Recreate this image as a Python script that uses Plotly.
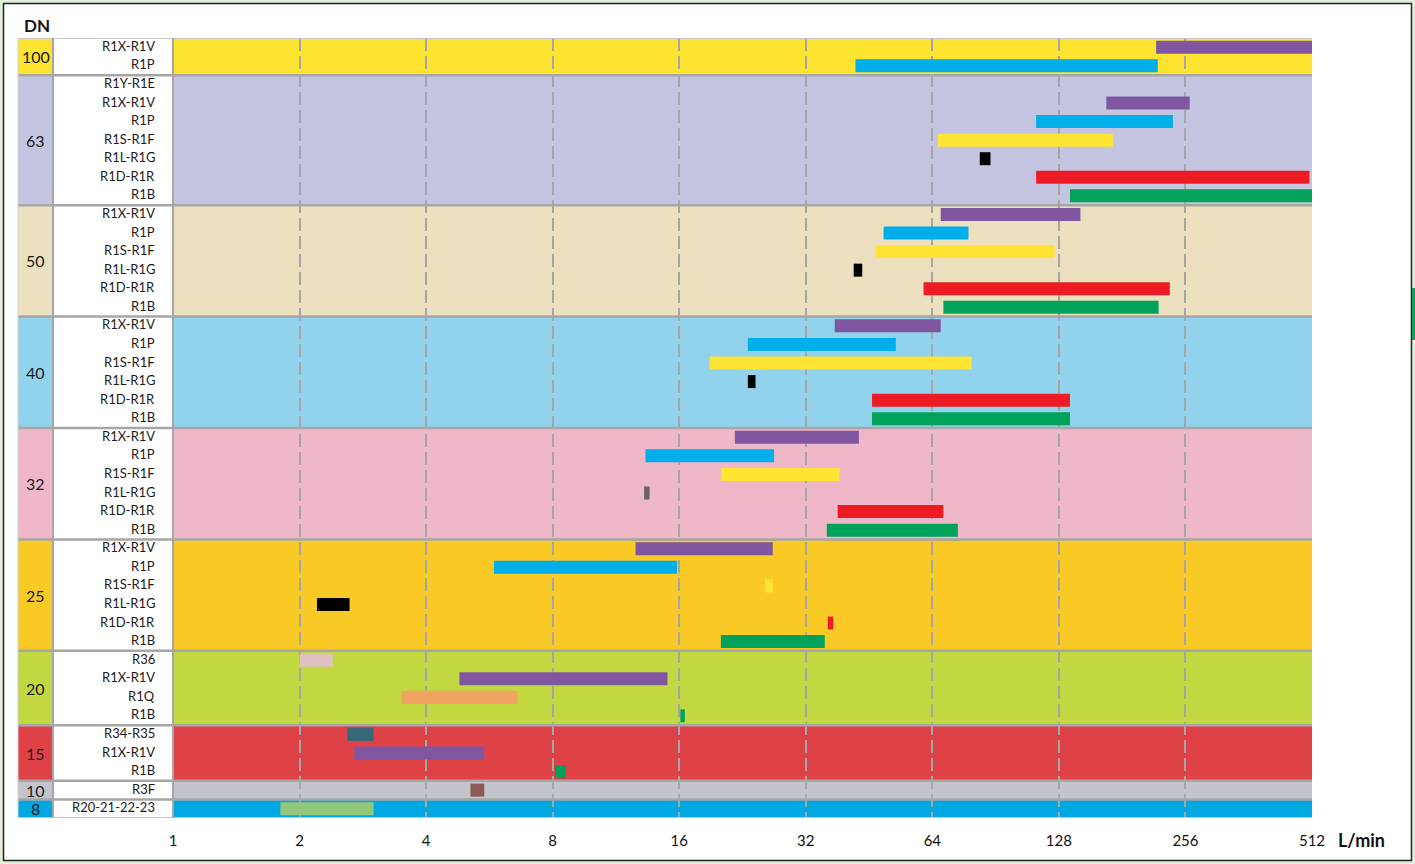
import plotly.graph_objects as go

# ---------------------------------------------------------------- data
dn_labels = ["100", "63", "50", "40", "32", "25", "20", "15", "10", "8"]

std_models = ["R1X-R1V", "R1P", "R1S-R1F", "R1L-R1G", "R1D-R1R", "R1B"]
models_per_dn = [
    ["R1X-R1V", "R1P"],
    ["R1Y-R1E", "R1X-R1V", "R1P", "R1S-R1F", "R1L-R1G", "R1D-R1R", "R1B"],
    std_models,
    std_models,
    std_models,
    std_models,
    ["R36", "R1X-R1V", "R1Q", "R1B"],
    ["R34-R35", "R1X-R1V", "R1B"],
    ["R3F"],
    ["R20-21-22-23"],
]

band_colors = ["#FEE330", "#C4C5E1", "#ECE0BF", "#91D2EC", "#EFB8C8",
               "#F9C926", "#C1D840", "#DE4247", "#C4C5CC", "#00A8E3"]

# flow ranges (L/min) per model and nominal diameter
bar_dn = ["100", "100",
          "63", "63", "63", "63", "63", "63",
          "50", "50", "50", "50", "50", "50",
          "40", "40", "40", "40", "40", "40",
          "32", "32", "32", "32", "32", "32",
          "25", "25", "25", "25", "25", "25",
          "20", "20", "20", "20",
          "15", "15", "15",
          "10",
          "8"]
bar_model = ["R1X-R1V", "R1P",
             "R1X-R1V", "R1P", "R1S-R1F", "R1L-R1G", "R1D-R1R", "R1B",
             "R1X-R1V", "R1P", "R1S-R1F", "R1L-R1G", "R1D-R1R", "R1B",
             "R1X-R1V", "R1P", "R1S-R1F", "R1L-R1G", "R1D-R1R", "R1B",
             "R1X-R1V", "R1P", "R1S-R1F", "R1L-R1G", "R1D-R1R", "R1B",
             "R1X-R1V", "R1P", "R1S-R1F", "R1L-R1G", "R1D-R1R", "R1B",
             "R36", "R1X-R1V", "R1Q", "R1B",
             "R34-R35", "R1X-R1V", "R1B",
             "R3F",
             "R20-21-22-23"]
bar_min = [218, 42,
           166, 113, 66, 83, 113, 136,
           67, 49, 47, 41.6, 61, 68,
           37.5, 23.3, 18.9, 23.3, 46, 46,
           21.7, 13.3, 20.1, 13.2, 38.1, 35.9,
           12.6, 5.8, 25.6, 2.2, 36.1, 20.1,
           2.0, 4.8, 3.5, 16.1,
           2.6, 2.7, 8.1,
           5.1,
           1.8]
bar_max = [512, 220,
           262, 239, 172, 88, 505, 512,
           144, 78, 125, 43.6, 235, 221,
           67, 52.4, 79.4, 24.3, 136, 136,
           42.8, 26.9, 38.5, 13.6, 68, 73.6,
           26.7, 15.8, 26.7, 2.63, 37.2, 35.5,
           2.4, 15.0, 6.6, 16.5,
           3.0, 5.5, 8.6,
           5.5,
           3.0]
bar_colors = ["#7F569F", "#00AEEA",
              "#7F569F", "#00AEEA", "#FFE433", "#000000", "#ED1C24", "#00A25A",
              "#7F569F", "#00AEEA", "#FFE433", "#000000", "#ED1C24", "#00A25A",
              "#7F569F", "#00AEEA", "#FFE433", "#000000", "#ED1C24", "#00A25A",
              "#7F569F", "#00AEEA", "#FFE433", "#636466", "#ED1C24", "#00A25A",
              "#7F569F", "#00AEEA", "#FFE433", "#000000", "#ED1C24", "#00A25A",
              "#DFC1C1", "#7F569F", "#EFA462", "#00A25A",
              "#376877", "#7F569F", "#00A25A",
              "#8A5A55",
              "#93C77C"]

flow_ticks = [1, 2, 4, 8, 16, 32, 64, 128, 256, 512]

# ---------------------------------------------------------------- layout geometry
W, H = 1415, 864
L, R, T, B = 173, 1312, 38, 818
PW, PH = R - L, B - T


def px(xp):
    return (xp - L) / PW


def py(yp):
    return (B - yp) / PH


FONT = "Lato, 'Open Sans', sans-serif"
GRID = "#A6A6A6"

# row index of each (dn, model)
row_of = {}
group_spans = []
r = 0
for dn, models in zip(dn_labels, models_per_dn):
    start = r
    for m in models:
        row_of[(dn, m)] = r
        r += 1
    group_spans.append((start - 0.5, r - 0.5))
n_rows = r

fig = go.Figure()

bar_y = [row_of[(d, m)] for d, m in zip(bar_dn, bar_model)]
fig.add_trace(go.Bar(
    orientation="h",
    y=bar_y,
    base=bar_min,
    x=[hi - lo for lo, hi in zip(bar_min, bar_max)],
    marker=dict(color=bar_colors, line=dict(width=0)),
    width=0.7,
    hoverinfo="skip",
    showlegend=False,
))

shapes = []
annotations = []

# outer frame
shapes.append(dict(type="rect", xref="paper", yref="paper",
                   x0=px(3.5), x1=px(1411.5), y0=py(3.5), y1=py(860.5),
                   fillcolor="white", line=dict(color="#222222", width=1.5),
                   layer="below"))
shapes.append(dict(type="line", xref="paper", yref="paper",
                   x0=px(1413.5), x1=px(1413.5), y0=py(288), y1=py(340),
                   line=dict(color="#12A05A", width=3), layer="below"))

for (y0, y1), dn, col in zip(group_spans, dn_labels, band_colors):
    # band in the chart area
    shapes.append(dict(type="rect", xref="paper", yref="y",
                       x0=0, x1=1, y0=y0, y1=y1,
                       fillcolor=col, line=dict(width=0), layer="below"))
    # DN column
    shapes.append(dict(type="rect", xref="paper", yref="y",
                       x0=px(18), x1=px(53), y0=y0, y1=y1,
                       fillcolor=col, line=dict(width=0), layer="below"))
    # model label column
    shapes.append(dict(type="rect", xref="paper", yref="y",
                       x0=px(53), x1=0, y0=y0, y1=y1,
                       fillcolor="white", line=dict(width=0), layer="below"))
    annotations.append(dict(xref="paper", yref="y", x=px(35.5), y=(y0 + y1) / 2,
                            text=dn, showarrow=False, xanchor="center",
                            yanchor="middle",
                            font=dict(family=FONT, size=16, color="#1A1A1A")))

# group separators
for y0, y1 in group_spans[1:]:
    shapes.append(dict(type="line", xref="paper", yref="y",
                       x0=px(18), x1=1, y0=y0, y1=y0,
                       line=dict(color=GRID, width=2.5), layer="above"))
for yv in (-0.5, n_rows - 0.5):
    shapes.append(dict(type="line", xref="paper", yref="y",
                       x0=px(18), x1=1, y0=yv, y1=yv,
                       line=dict(color="#C8C8C8", width=2), layer="above"))
for xv in (53, 173):
    shapes.append(dict(type="line", xref="paper", yref="y",
                       x0=px(xv), x1=px(xv), y0=-0.5, y1=n_rows - 0.5,
                       line=dict(color=GRID, width=2), layer="above"))
shapes.append(dict(type="line", xref="paper", yref="y",
                   x0=px(18), x1=px(18), y0=-0.5, y1=n_rows - 0.5,
                   line=dict(color="#D0D0D0", width=1), layer="above"))

# model labels
for (dn, m), ri in row_of.items():
    annotations.append(dict(xref="paper", yref="y", x=px(157), y=ri - 0.08,
                            text=m, showarrow=False, xanchor="right",
                            yanchor="middle",
                            font=dict(family=FONT, size=13, color="#1A1A1A")))

annotations.append(dict(xref="paper", yref="paper", x=px(22), y=py(25),
                        text="<b>DN</b>", showarrow=False, xanchor="left",
                        yanchor="middle",
                        font=dict(family=FONT, size=17, color="#111111")))
annotations.append(dict(xref="paper", yref="paper", x=px(1336), y=py(840),
                        text="<b>L/min</b>", showarrow=False, xanchor="left",
                        yanchor="middle",
                        font=dict(family=FONT, size=18, color="#111111")))

fig.update_layout(
    width=W, height=H,
    margin=dict(l=L, r=W - R, t=T, b=H - B, pad=0),
    paper_bgcolor="#E3F0DB",
    plot_bgcolor="rgba(0,0,0,0)",
    barmode="overlay",
    shapes=shapes,
    annotations=annotations,
    showlegend=False,
    xaxis=dict(
        type="log",
        range=[0, 2.70927],
        tickvals=flow_ticks,
        ticktext=[str(v) for v in flow_ticks],
        showgrid=True,
        gridcolor=GRID,
        gridwidth=2,
        griddash="13px,5px",
        zeroline=False,
        showline=False,
        ticks="outside",
        ticklen=9,
        tickcolor="rgba(0,0,0,0)",
        tickfont=dict(family=FONT, size=15, color="#111111"),
        fixedrange=True,
    ),
    yaxis=dict(
        range=[n_rows - 0.5, -0.5],
        showgrid=False,
        zeroline=False,
        showticklabels=False,
        showline=False,
        fixedrange=True,
    ),
)

fig.write_html("out.html")
